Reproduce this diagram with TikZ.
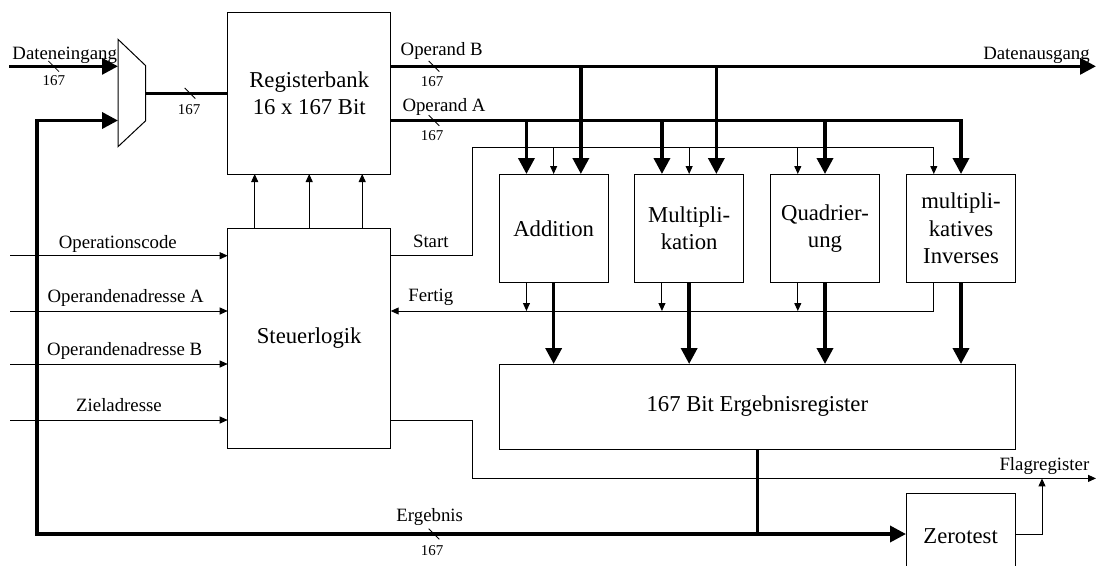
\documentclass[tikz,border=0pt]{standalone}
\usepackage{fontspec}
\setmainfont{Liberation Serif}
\usepackage{tikz}
\usetikzlibrary{arrows.meta,positioning,calc}
\newcommand{\blockfont}{\fontsize{22.7}{27.2}\selectfont}
\newcommand{\labelfont}{\fontsize{18.8}{22}\selectfont}
\newcommand{\widthfont}{\fontsize{15}{18}\selectfont}

\begin{document}
\begin{tikzpicture}[x=1pt,y=-1pt,
    block/.style={draw,line width=1pt,inner sep=0pt,outer sep=0pt,align=center,font=\blockfont},
    unit/.style={block,minimum width=108.7pt,minimum height=108.7pt},
    wire/.style={line width=1pt},
    sig/.style={wire,-{Triangle[length=8pt,width=7pt]}},
    bus/.style={line width=3.6pt},
    busarrow/.style={bus,-{Triangle[length=16pt,width=16pt]}},
    lbl/.style={anchor=base,inner sep=0pt,font=\labelfont},
    bits/.style={anchor=base,inner sep=0pt,font=\widthfont}]
    \useasboundingbox (0,0) rectangle (1097,565);
    % blocks
    \node[block,minimum width=163pt,minimum height=161.7pt] (regbank) at (309.2,93.15) {Registerbank\\16 x 167 Bit};
    \node[block,minimum width=163pt,minimum height=219.7pt] (ctrl) at (309.2,338.55) {Steuerlogik};
    \node[unit] (add) at (553.65,228.35) {Addition};
    \node[unit] (mul) at (689.15,228.35) {Multipli-\\kation};
    \node[unit] (quad) at (825,228.35) {Quadrier-\\ung};
    \node[unit] (inv) at (961,228.35) {multipli-\\katives\\Inverses};
    \node[block,minimum width=516pt,minimum height=85pt] (res) at (757.3,406.5) {167 Bit Ergebnisregister};
    \node[block,minimum width=109.3pt,minimum height=87pt] (zero) at (960.65,536.5) {Zerotest};
    % multiplexer
    \draw[wire] (118,39.3) -- (145.7,65.7) -- (145.7,120.7) -- (118,146.7) -- cycle;
    \coordinate (mux-in1) at (118,66.3);
    \coordinate (mux-in2) at (118,120.5);
    \coordinate (mux-out) at (145.7,93.3);
    % free ends and bends
    \coordinate (din) at (9,66.3);
    \coordinate (dout) at (1096,66.3);
    \coordinate (in-op) at (10,255.7);
    \coordinate (in-a) at (10,311);
    \coordinate (in-b) at (10,364);
    \coordinate (in-dst) at (10,420);
    \coordinate (start) at (472,147.3);
    \coordinate (join) at (res.south |- 0,534);
    \coordinate (loop) at (37,534);
    \coordinate (flag-in) at (1042,478.4);
    \coordinate (flag-out) at (1096,478.4);
    \foreach \u in {add,mul,quad,inv} {
      \coordinate (\u-l) at ([xshift=-27.2pt]\u.north);
      \coordinate (\u-r) at ([xshift=27.2pt]\u.north);
    }
    % data buses
    \draw[busarrow] (din) -- (mux-in1);
    \draw[bus] (mux-out) -- (mux-out -| regbank.west);
    \draw[busarrow] (regbank.east |- mux-in1) -- (dout);
    \draw[busarrow] (regbank.east |- mux-in2) -| (inv.north);
    \foreach \t in {add-l,mul-l,quad} \draw[busarrow] (\t |- mux-in2) -- (\t |- add.north);
    \foreach \t in {add-r,mul-r} \draw[busarrow] (\t |- mux-in1) -- (\t);
    \foreach \t in {add,mul,quad,inv} \draw[busarrow] (\t.south) -- (\t |- res.north);
    \draw[bus] (res.south) -- (join);
    \draw[busarrow] (join) -- (loop) |- (mux-in2);
    \draw[busarrow] (join) -- (join -| zero.west);
    % control signals
    \foreach \dx in {-54.5,0,53} \draw[sig] ([xshift=\dx pt]ctrl.north) -- ([xshift=\dx pt]regbank.south);
    \foreach \i in {in-op,in-a,in-b,in-dst} \draw[sig] (\i) -- (\i -| ctrl.west);
    \draw[sig] (in-op -| ctrl.east) -| (start) -| (inv-l);
    \foreach \t in {add,mul,quad-l} \draw[sig] (start -| \t) -- (\t |- add.north);
    \draw[sig] (inv-l |- inv.south) |- (in-a -| ctrl.east);
    \foreach \t in {add-l,mul-l,quad-l} \draw[sig] (\t |- add.south) -- (\t |- in-a);
    \draw[sig] (in-dst -| ctrl.east) -| (start |- flag-out) -- (flag-out);
    \draw[sig] (zero.east |- join) -| (flag-in);
    % bus width marks
    \foreach \p in {(53.7,66.3),(190,93.3),(434,66.3),(434,120.5),(434,534)}
      \draw[line width=0.8pt] \p ++(-5.3,-5.3) -- ++(10.6,10.6);
    % labels
    \node[lbl] (l-din) at (64.7,59) {Dateneingang};
    \node[lbl] (l-dout) at (1036.5,59.3) {Datenausgang};
    \node[lbl] (l-opb) at (441.7,55) {Operand B};
    \node[lbl] (l-opa) at (444,111.7) {Operand A};
    \node[lbl] (l-op) at (117.8,248.3) {Operationscode};
    \node[lbl] (l-a) at (125.7,302) {Operandenadresse A};
    \node[lbl] (l-b) at (124.7,355.3) {Operandenadresse B};
    \node[lbl] (l-dst) at (119,411.6) {Zieladresse};
    \node[lbl] (l-start) at (430.8,247.7) {Start};
    \node[lbl] (l-done) at (430.8,301.7) {Fertig};
    \node[lbl] (l-flag) at (1044.4,470.6) {Flagregister};
    \node[lbl] (l-erg) at (429.7,521) {Ergebnis};
    \node[bits] (w-din) at (53.8,85) {167};
    \node[bits] (w-mux) at (189,114) {167};
    \node[bits] (w-opb) at (432,86.7) {167};
    \node[bits] (w-opa) at (432,140.7) {167};
    \node[bits] (w-erg) at (432,555.4) {167};
\end{tikzpicture}
\end{document}
